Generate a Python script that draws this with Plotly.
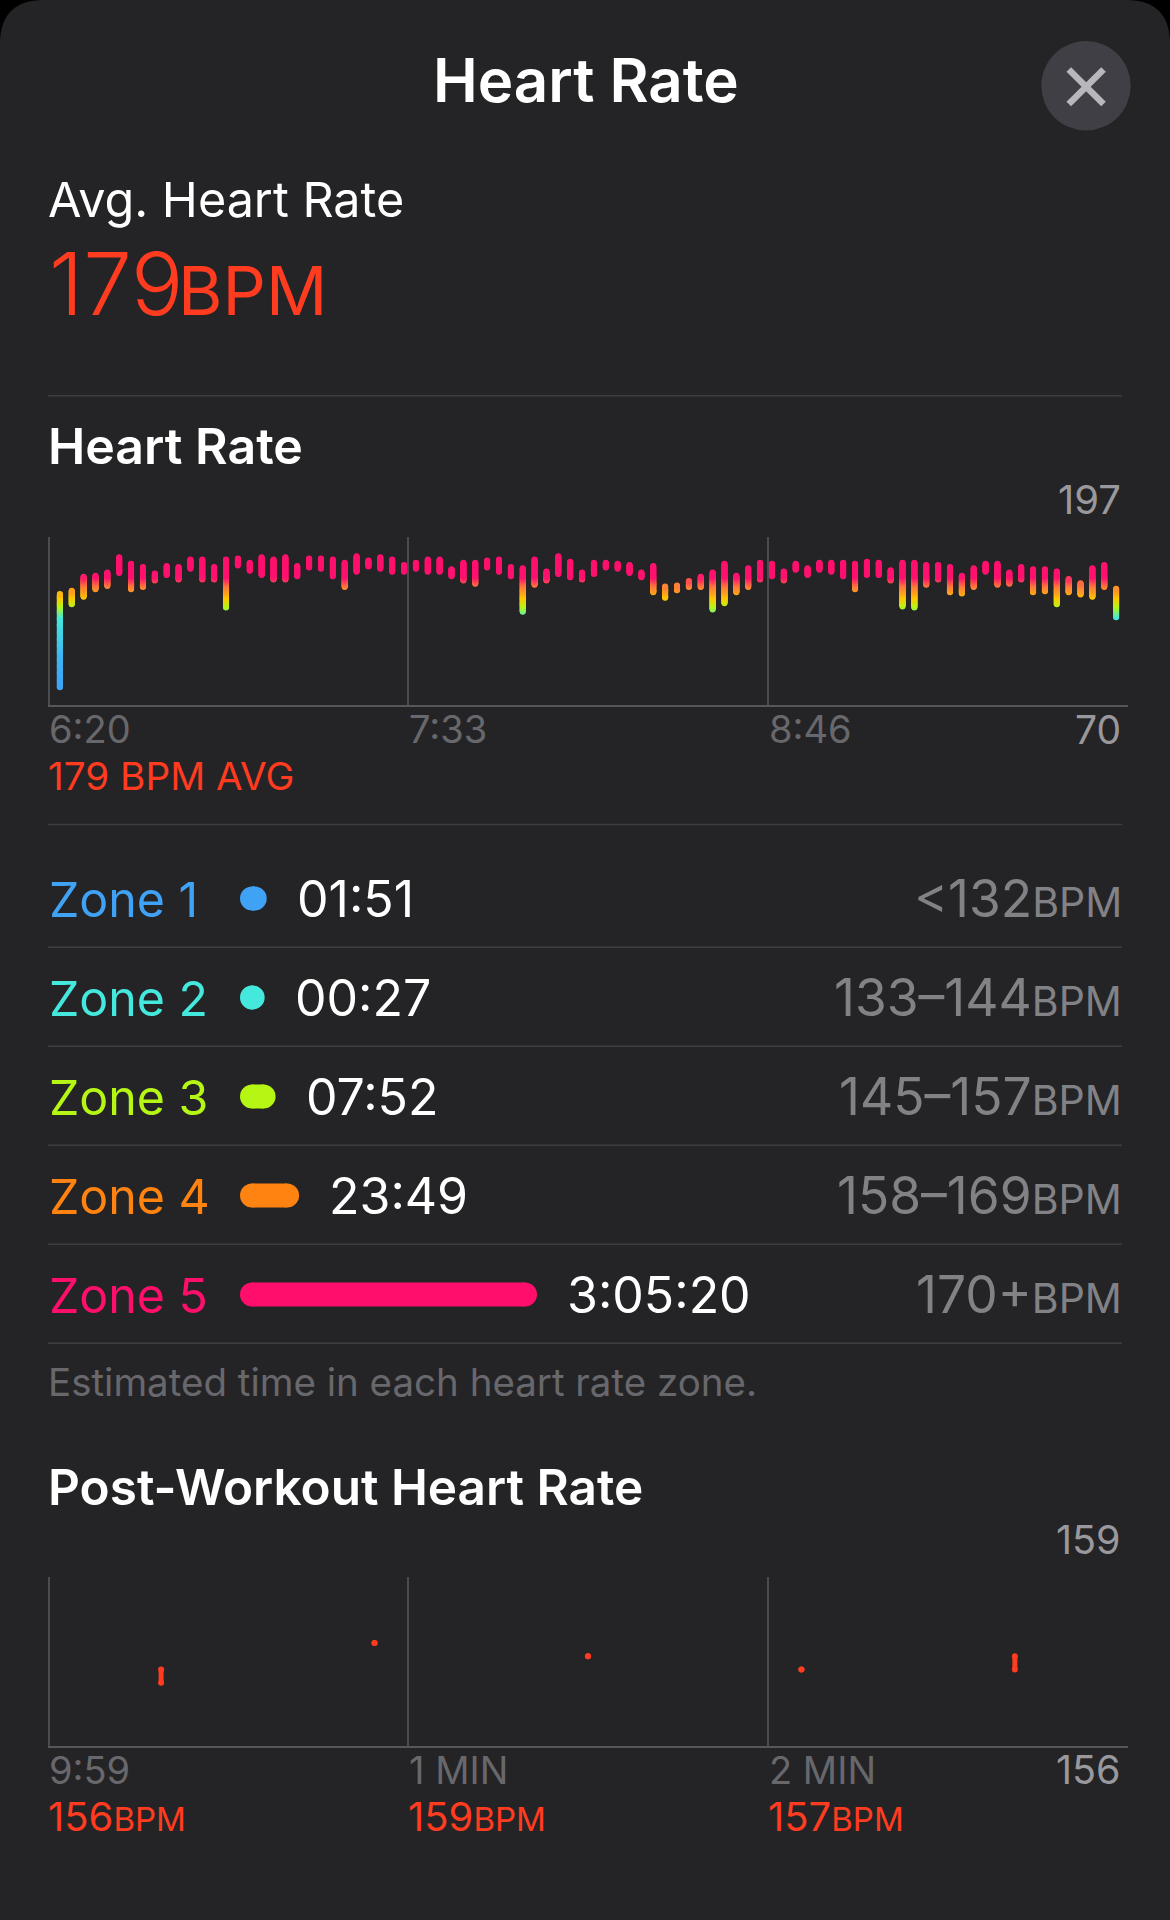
import plotly.graph_objects as go

W, H = 1170, 1920
FONT = "Inter"

# ---- data ----
hr_high = [162,165,178,179,182,196,190,187,181,188,187,194,194,187,194,195,191,196,194,196,188,195,195,194,191,197,193,196,194,189,
           191,194,194,185,191,191,193,194,187,186,194,183,197,192,182,191,191,190,189,182,188,169,170,174,178,182,190,179,186,191,
           190,183,190,186,191,191,191,190,192,191,184,191,191,189,189,187,179,186,190,190,182,187,185,185,183,176,172,186,189,167]
hr_low = [70,147,154,161,164,176,161,163,169,174,170,180,170,170,144,183,178,174,170,170,173,181,180,173,163,177,182,180,177,177,
          180,177,177,173,169,166,181,177,173,140,165,169,175,172,170,175,181,180,176,172,158,153,160,163,163,142,148,158,163,170,
          173,169,179,174,179,177,173,161,174,174,169,145,144,165,170,158,157,163,177,165,166,170,158,159,147,158,156,154,163,135]
hr_ticks = ["6:20", "7:33", "8:46"]
hr_max, hr_min = "197", "70"

zones = ["Zone 1", "Zone 2", "Zone 3", "Zone 4", "Zone 5"]
zone_seconds = [111, 27, 472, 1429, 11120]
zone_times = ["01:51", "00:27", "07:52", "23:49", "3:05:20"]
zone_ranges = ["<132", "133–144", "145–157", "158–169", "170+"]
zone_colors = ["#40A2F5", "#45E8DC", "#B6F614", "#FF8310", "#FF0F6B"]

post_low = [156, 159, 158, 157, 157]
post_high = [157, 159, 158, 157, 158]
post_ticks = ["9:59", "1 MIN", "2 MIN"]
post_bpm = ["156", "159", "157"]
post_max, post_min = "159", "156"

RED = "#FF3B20"
BG = "#242426"
SEP = "#3E3E40"
AXIS = "#565658"
GRID = "#4C4C4E"
DIM = "#68686C"
MID = "#828286"
LIGHT = "#98989D"

grad_stops = [(70, "#40A2F5"), (102, "#40B4F3"), (139, "#45E8DC"), (149, "#B4F61A"), (157, "#FFC800"),
              (162, "#FFA01E"), (168, "#FF7A3A"), (176, "#FF1270"), (197, "#FF0F6B")]
grad = [[(b - 70) / 127, c] for b, c in grad_stops]

# ---- geometry helpers ----
def dx(a, b): return [a / W, b / W]
def dy(top, bot): return [1 - bot / H, 1 - top / H]

annos = []
def label(text, x, base, size, color, anchor="left", weight=None, xref="paper", xshift=0):
    f = dict(family=FONT, size=size, color=color)
    if weight:
        f["weight"] = weight
    annos.append(dict(
        text=text, showarrow=False, font=f, borderpad=0, borderwidth=0,
        xref=xref, x=(x / W if xref == "paper" else x), xanchor=anchor, xshift=xshift,
        yref="paper", y=1 - (base + 0.24 * size) / H, yanchor="bottom", align=anchor,
    ))

fig = go.Figure()

# heart-rate range bars, coloured by bpm through a colour scale
CAP = 2.78
xs, ys = [], []
for i, (lo, hi) in enumerate(zip(hr_low, hr_high), start=1):
    a, b = lo + CAP, hi - CAP
    v = a
    while v < b:
        xs.append(i); ys.append(v); v += 0.5
    xs.append(i); ys.append(b if b >= a else (lo + hi) / 2)
fig.add_trace(go.Scatter(x=xs, y=ys, mode="markers", xaxis="x", yaxis="y", hoverinfo="skip",
                         marker=dict(size=6, color=ys, cmin=70, cmax=197, colorscale=grad, line=dict(width=0))))

# zone pills
for k, (s, c) in enumerate(zip(zone_seconds, zone_colors), start=1):
    fig.add_trace(go.Scatter(x=[0, s], y=[k, k], mode="lines+markers", xaxis="x3", yaxis="y3",
                             line=dict(color=c, width=24), marker=dict(size=24, color=c, line=dict(width=0)),
                             hoverinfo="skip"))

# post-workout ranges
px, py = [], []
for i, (lo, hi) in enumerate(zip(post_low, post_high), start=1):
    px += [i, i, None]; py += [lo, hi, None]
fig.add_trace(go.Scatter(x=px, y=py, mode="lines+markers", xaxis="x2", yaxis="y2", hoverinfo="skip",
                         line=dict(color=RED, width=5), marker=dict(size=6, color=RED, line=dict(width=0))))

def xax(domain, rng, vals, text):
    return dict(domain=domain, range=rng, tickmode="array", tickvals=vals, ticktext=text, ticks="",
                showgrid=True, gridcolor=GRID, gridwidth=1.5, zeroline=False, showline=True,
                linecolor=AXIS, linewidth=2, fixedrange=True, ticklabelposition="outside right",
                ticklabelstandoff=-9, tickfont=dict(family=FONT, size=38, color=DIM))
def yax(domain, rng):
    return dict(domain=domain, range=rng, showgrid=False, zeroline=False, showticklabels=False, ticks="",
                showline=True, linecolor=GRID, linewidth=1.5, fixedrange=True,
                anchor="free", position=48.75 / W)

top_x = [0, 91 / 3, 182 / 3]
post_x = [0.47, 0.47 + 5.06 / 3, 0.47 + 10.12 / 3]

layout = dict(
    width=W, height=H, margin=dict(l=0, r=0, t=0, b=0), showlegend=False,
    paper_bgcolor="#000000", plot_bgcolor="rgba(0,0,0,0)",
    xaxis=xax(dx(48, 1128), [0, 91], top_x, hr_ticks),
    yaxis=yax(dy(537, 704.5), [56.83, 212.1]),
    xaxis2=dict(xax(dx(48, 1128), [0.47, 5.53], post_x, post_ticks), anchor="y2"),
    yaxis2=yax(dy(1577, 1745.7), [151.23, 164]),
    xaxis3=dict(domain=dx(240, 537), range=[-489, 11609], visible=False, anchor="y3", fixedrange=True),
    yaxis3=dict(domain=dy(849, 1344), range=[5.5, 0.5], visible=False, anchor="x3", fixedrange=True),
)

shapes = []
# rounded card
r = 44
shapes.append(dict(type="path", xref="paper", yref="paper", layer="below", line=dict(width=0), fillcolor=BG,
                   path=f"M 0 0 L 0 {1 - r / H} Q 0 1 {r / W} 1 L {1 - r / W} 1 Q 1 1 1 {1 - r / H} L 1 0 Z"))
# separators
for y in [395.7, 824.5, 947.3, 1046.3, 1145.3, 1244.3, 1343.3]:
    shapes.append(dict(type="line", xref="paper", yref="paper", x0=48 / W, x1=1122 / W, y0=1 - y / H, y1=1 - y / H,
                       line=dict(color=SEP, width=1.5), layer="below"))
# close button
cx, cy, cr = 1086, 85.8, 44.7
shapes.append(dict(type="circle", xref="paper", yref="paper", x0=(cx - cr) / W, x1=(cx + cr) / W,
                   y0=1 - (cy + cr) / H, y1=1 - (cy - cr) / H, fillcolor="#3F3F45", line=dict(width=0), layer="below"))
for x0, x1 in [(1068.8, 1103.5), (1103.5, 1068.8)]:
    shapes.append(dict(type="line", xref="paper", yref="paper", x0=x0 / W, x1=x1 / W, y0=1 - 69.5 / H, y1=1 - 104 / H,
                       line=dict(color="#B8B8BC", width=6.5)))
layout["shapes"] = shapes

# header
label("Heart Rate", 585.5, 102, 60, "#FFFFFF", anchor="center", weight=600)
label("Avg. Heart Rate", 48, 217.5, 48.5, "#FFFFFF")
label("179", 49, 315, 87, RED, weight=300)
label("BPM", 178, 315, 68, RED)
label("Heart Rate", 48, 464, 50, "#FFFFFF", weight=600)

# chart end labels
label(hr_max, 1121, 514, 40, LIGHT, anchor="right")
label(hr_min, 1121, 744, 39, LIGHT, anchor="right")
label("179 BPM AVG", 48, 790, 38.7, RED)

# zones
bases = [917, 1016, 1115, 1214, 1313]
for name, col, sec, t, rg, b in zip(zones, zone_colors, zone_seconds, zone_times, zone_ranges, bases):
    label(name, 49, b, 48.3, col)
    label(t, sec, b, 50, "#FFFFFF", xref="x3", xshift=42)
    label(f'{rg}<span style="font-size:41px">BPM</span>', 1121.5, b, 51.5, MID, anchor="right")

label("Estimated time in each heart rate zone.", 48, 1396, 38.5, DIM)
label("Post-Workout Heart Rate", 48, 1505, 49.5, "#FFFFFF", weight=600)

label(post_max, 1121, 1555, 39.5, LIGHT, anchor="right")
label(post_min, 1121, 1785, 39.5, LIGHT, anchor="right")
for v, x in zip(post_bpm, [48, 408, 768]):
    label(f'{v}<span style="font-size:33px">BPM</span>', x, 1831, 40, RED)

layout["annotations"] = annos
fig.update_layout(**layout)
fig.write_html("out.html", post_script="document.body.style.margin='0';", config=dict(displayModeBar=False))
